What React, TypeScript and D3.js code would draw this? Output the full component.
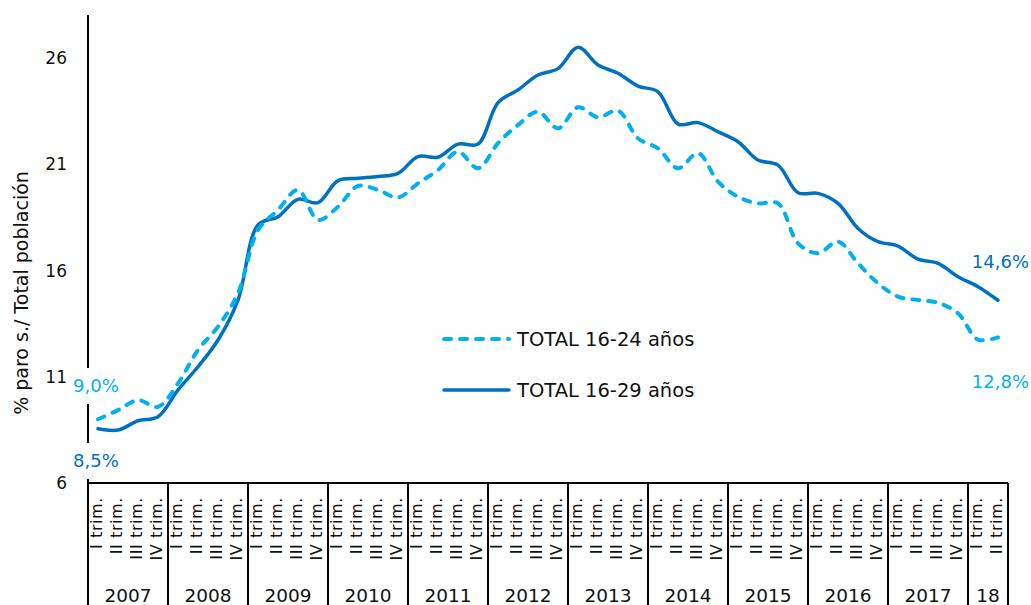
import React, { useEffect, useRef } from 'react';
import * as d3 from 'd3';

const years = ['2007', '2008', '2009', '2010', '2011', '2012', '2013', '2014', '2015', '2016', '2017', '18'];
const quarterNames = ['I trim.', 'II trim.', 'III trim.', 'IV trim.'];
// 2007 I trim. ... 2018 II trim.
const quarters = years.flatMap((y, i) => (i === years.length - 1 ? quarterNames.slice(0, 2) : quarterNames).map(q => `${y}|${q}`));

const total1624 = [
  9.0, 9.43, 9.9, 9.59, 10.69, 12.26, 13.36, 14.93,
  17.9, 18.85, 19.79, 18.38, 19.0, 19.98, 19.79, 19.44,
  20.1, 20.73, 21.59, 20.81, 21.99, 22.85, 23.47, 22.69,
  23.68, 23.21, 23.52, 22.22, 21.75, 20.81, 21.52, 20.18,
  19.47, 19.16, 19.16, 17.28, 16.81, 17.36, 16.34, 15.4,
  14.77, 14.61, 14.48, 13.99, 12.75, 12.85
];
const total1629 = [
  8.55, 8.49, 8.93, 9.12, 10.38, 11.47, 12.73, 14.61,
  18.14, 18.53, 19.35, 19.19, 20.23, 20.34, 20.42, 20.57,
  21.36, 21.33, 21.95, 21.95, 23.9, 24.5, 25.2, 25.5,
  26.5, 25.67, 25.28, 24.68, 24.41, 22.89, 22.96, 22.53,
  22.06, 21.2, 20.96, 19.66, 19.63, 19.16, 17.98, 17.36,
  17.15, 16.53, 16.34, 15.71, 15.24, 14.6
];
const yTicks = [6, 11, 16, 21, 26];

const LIGHT = '#00b0f0';
const DARK = '#0070c0';
const FONT = '"DejaVu Sans", sans-serif';

export default function App() {
  const svgRef = useRef<SVGSVGElement>(null);

  useEffect(() => {
    const svg = d3.select(svgRef.current);
    svg.selectAll('*').remove();

    const width = 1031;
    const height = 605;
    const left = 88;
    const right = 1008;
    const top = 15;
    const bottom = 483;

    const x = d3.scaleBand().domain(quarters).range([left, right]);
    const y = d3.scaleLinear().domain([6, 28]).range([bottom, top + 0.5]);
    const cx = (i: number) => (x(quarters[i]) as number) + x.bandwidth() / 2;

    svg.attr('width', width).attr('height', height);

    // y axis title
    svg.append('text')
      .attr('transform', `translate(28, 293) rotate(-90)`)
      .attr('text-anchor', 'middle')
      .attr('font-family', FONT)
      .attr('font-size', 19)
      .attr('fill', '#111')
      .text('% paro s./ Total población');

    // y axis line
    svg.append('line')
      .attr('x1', left).attr('x2', left)
      .attr('y1', top).attr('y2', height)
      .attr('stroke', '#000').attr('stroke-width', 2);

    yTicks.forEach(t => {
      svg.append('text')
        .attr('x', 67)
        .attr('y', y(t))
        .attr('dy', '0.36em')
        .attr('text-anchor', 'end')
        .attr('font-family', FONT)
        .attr('font-size', 17)
        .attr('fill', '#111')
        .text(t);
    });

    // x axis
    svg.append('line')
      .attr('x1', left).attr('x2', right)
      .attr('y1', bottom).attr('y2', bottom)
      .attr('stroke', '#000').attr('stroke-width', 2);

    let start = 0;
    years.forEach((yr, yi) => {
      const n = yi === years.length - 1 ? 2 : 4;
      const x0 = x(quarters[start]) as number;
      const x1 = x0 + n * x.bandwidth();
      svg.append('line')
        .attr('x1', x1).attr('x2', x1)
        .attr('y1', bottom).attr('y2', height)
        .attr('stroke', '#000').attr('stroke-width', 2);
      svg.append('text')
        .attr('x', (x0 + x1) / 2)
        .attr('y', 602)
        .attr('text-anchor', 'middle')
        .attr('font-family', FONT)
        .attr('font-size', 18.5)
        .attr('fill', '#111')
        .text(yr);
      start += n;
    });

    quarters.forEach((q, i) => {
      const label = q.split('|')[1];
      svg.append('text')
        .attr('transform', `translate(${cx(i) + 4}, 497) rotate(-90)`)
        .attr('text-anchor', 'end')
        .attr('font-family', FONT)
        .attr('font-size', 16)
        .attr('letter-spacing', 0.6)
        .attr('fill', '#111')
        .text(label);
    });

    // lines
    const line = d3.line<number>()
      .x((_, i) => cx(i))
      .y(d => y(d))
      .curve(d3.curveCatmullRom.alpha(0.5));

    svg.append('path')
      .attr('d', line(total1629) as string)
      .attr('fill', 'none')
      .attr('stroke', DARK)
      .attr('stroke-width', 3.5)
      .attr('stroke-linejoin', 'round')
      .attr('stroke-linecap', 'round');

    svg.append('path')
      .attr('d', line(total1624) as string)
      .attr('fill', 'none')
      .attr('stroke', LIGHT)
      .attr('stroke-width', 4)
      .attr('stroke-dasharray', '7,9')
      .attr('stroke-linecap', 'round');

    // end labels with white box (they cut the axis line)
    const endLabel = (lx: number, ly: number, txt: string, color: string, anchor: string, box: boolean) => {
      if (box) {
        svg.append('rect')
          .attr('x', lx - 4).attr('y', ly - 18)
          .attr('width', 54).attr('height', 36)
          .attr('fill', '#fff');
      }
      svg.append('text')
        .attr('x', lx)
        .attr('y', ly)
        .attr('dy', '0.36em')
        .attr('text-anchor', anchor)
        .attr('font-family', FONT)
        .attr('font-size', 18)
        .attr('fill', color)
        .text(txt);
    };
    endLabel(73, 386, '9,0%', LIGHT, 'start', true);
    endLabel(73, 461, '8,5%', DARK, 'start', true);
    endLabel(1029, 262, '14,6%', DARK, 'end', false);
    endLabel(1029, 382, '12,8%', LIGHT, 'end', false);

    // legend
    const legend = [
      { name: 'TOTAL 16-24 años', color: LIGHT, dash: '7,9', w: 4, ly: 339 },
      { name: 'TOTAL 16-29 años', color: DARK, dash: null, w: 3.5, ly: 390 }
    ];
    legend.forEach(l => {
      svg.append('line')
        .attr('x1', 444).attr('x2', 509)
        .attr('y1', l.ly).attr('y2', l.ly)
        .attr('stroke', l.color)
        .attr('stroke-width', l.w)
        .attr('stroke-linecap', 'round')
        .attr('stroke-dasharray', l.dash);
      svg.append('text')
        .attr('x', 517)
        .attr('y', l.ly)
        .attr('dy', '0.36em')
        .attr('font-family', FONT)
        .attr('font-size', 19.5)
        .attr('fill', '#111')
        .text(l.name);
    });
  }, []);

  return (
    <div style={{ position: 'absolute', left: 0, top: 0 }}>
      <svg ref={svgRef} style={{ display: 'block', background: '#fff' }}></svg>
    </div>
  );
}
